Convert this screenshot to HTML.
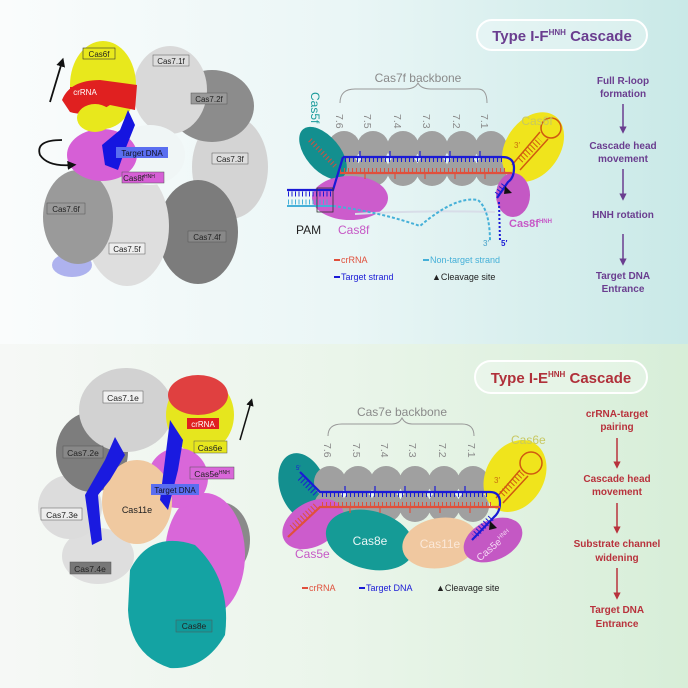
<!DOCTYPE html>
<html><head><meta charset="utf-8"><style>
html,body{margin:0;padding:0;width:688px;height:688px;overflow:hidden}
svg{display:block;font-family:"Liberation Sans",sans-serif}
</style></head><body>
<svg width="688" height="688" viewBox="0 0 688 688" xmlns="http://www.w3.org/2000/svg">
<defs>
<linearGradient id="gt" x1="0" x2="1" y1="0" y2="0"><stop offset="0" stop-color="#fafcfc"/><stop offset="0.5" stop-color="#eaf6f6"/><stop offset="1" stop-color="#c9e9e7"/></linearGradient>
<linearGradient id="gb" x1="0" x2="1" y1="0" y2="0"><stop offset="0" stop-color="#f6f8f6"/><stop offset="0.5" stop-color="#eaf5ea"/><stop offset="1" stop-color="#d7eed8"/></linearGradient>
<marker id="ap" viewBox="0 0 10 10" refX="5" refY="5" markerWidth="5" markerHeight="5" orient="auto"><path d="M0,0L10,5L0,10z" fill="#6a3d8f"/></marker>
<marker id="ar" viewBox="0 0 10 10" refX="5" refY="5" markerWidth="5" markerHeight="5" orient="auto"><path d="M0,0L10,5L0,10z" fill="#b8323c"/></marker>
<marker id="ak" viewBox="0 0 10 10" refX="5" refY="5" markerWidth="5" markerHeight="5" orient="auto"><path d="M0,0L10,5L0,10z" fill="#111"/></marker>
</defs>
<rect x="0" y="0" width="688" height="344" fill="url(#gt)"/>
<rect x="0" y="344" width="688" height="344" fill="url(#gb)"/>

<!-- ===== TOP STRUCTURE ===== -->
<g>
<ellipse cx="72" cy="265" rx="20" ry="12" fill="#8f93e8" opacity="0.7"/>
<ellipse cx="230" cy="167" rx="38" ry="52" fill="#d4d4d4"/>
<ellipse cx="198" cy="232" rx="40" ry="52" fill="#7c7c7c"/>
<ellipse cx="127" cy="226" rx="42" ry="60" fill="#dedede"/>
<ellipse cx="78" cy="217" rx="35" ry="47" fill="#9a9a9a"/>
<ellipse cx="212" cy="106" rx="42" ry="36" fill="#8c8c8c"/>
<ellipse cx="170" cy="90" rx="37" ry="44" fill="#d9d9d9"/>
<ellipse cx="150" cy="155" rx="35" ry="30" fill="#f0f6f6"/>
<ellipse cx="102" cy="155" rx="35" ry="26" fill="#d65fd6"/>
<ellipse cx="103" cy="85" rx="33" ry="44" fill="#e8e81c"/>
<path d="M62,100 Q70,80 100,80 L137,85 L135,110 L110,105 Q90,118 70,112z" fill="#e02020"/>
<ellipse cx="95" cy="118" rx="18" ry="14" fill="#e8e81c"/>
<path d="M128,110 L120,130 L102,145 L105,165 L118,170 L125,150 L135,125z" fill="#1515e0"/>
<rect x="83" y="48" width="32" height="11" fill="#e8e81c" stroke="#333" stroke-width="0.6"/><text x="99" y="57" font-size="8" text-anchor="middle" fill="#222">Cas6f</text>
<rect x="70" y="87" width="30" height="10" fill="#e02020"/><text x="85" y="95" font-size="8" text-anchor="middle" fill="#fff">crRNA</text>
<rect x="153" y="55" width="36" height="11" fill="#ddd" stroke="#555" stroke-width="0.5"/><text x="171" y="64" font-size="8" text-anchor="middle" fill="#222">Cas7.1f</text>
<rect x="191" y="93" width="36" height="11" fill="#999" stroke="#555" stroke-width="0.5"/><text x="209" y="102" font-size="8" text-anchor="middle" fill="#222">Cas7.2f</text>
<rect x="212" y="153" width="36" height="11" fill="#ddd" stroke="#555" stroke-width="0.5"/><text x="230" y="162" font-size="8" text-anchor="middle" fill="#222">Cas7.3f</text>
<rect x="188" y="231" width="38" height="11" fill="#888" stroke="#555" stroke-width="0.5"/><text x="207" y="240" font-size="8" text-anchor="middle" fill="#222">Cas7.4f</text>
<rect x="109" y="243" width="36" height="11" fill="#eee" stroke="#555" stroke-width="0.5"/><text x="127" y="252" font-size="8" text-anchor="middle" fill="#222">Cas7.5f</text>
<rect x="47" y="203" width="38" height="11" fill="#999" stroke="#555" stroke-width="0.5"/><text x="66" y="212" font-size="8" text-anchor="middle" fill="#222">Cas7.6f</text>
<rect x="116" y="147" width="52" height="11" fill="#5a6ef0"/><text x="142" y="156" font-size="8" text-anchor="middle" fill="#112">Target DNA</text>
<rect x="122" y="172" width="42" height="11" fill="#d65fd6" stroke="#555" stroke-width="0.5"/><text x="139" y="181" font-size="8" text-anchor="middle" fill="#222">Cas8f<tspan font-size="5" dy="-3">HNH</tspan></text>
<line x1="50" y1="102" x2="62" y2="62" stroke="#111" stroke-width="1.8" marker-end="url(#ak)"/>
<path d="M62,140 Q35,140 40,155 Q48,167 72,165" fill="none" stroke="#111" stroke-width="1.8" marker-end="url(#ak)"/>
</g>

<!-- ===== BOTTOM STRUCTURE ===== -->
<g>
<ellipse cx="98" cy="556" rx="36" ry="28" fill="#dedede"/>
<ellipse cx="70" cy="507" rx="32" ry="32" fill="#dcdcdc"/>
<ellipse cx="92" cy="452" rx="36" ry="40" fill="#7d7d7d"/>
<ellipse cx="126" cy="410" rx="47" ry="42" fill="#d2d2d2"/>
<ellipse cx="220" cy="540" rx="30" ry="38" fill="#8a8a8a"/>
<ellipse cx="200" cy="415" rx="34" ry="38" fill="#e6e61e"/>
<ellipse cx="198" cy="395" rx="30" ry="20" fill="#e04040"/>
<ellipse cx="205" cy="555" rx="40" ry="62" fill="#d967d9"/>
<ellipse cx="178" cy="478" rx="30" ry="30" fill="#d967d9"/>
<ellipse cx="137" cy="502" rx="35" ry="42" fill="#f0c9a0"/>
<path d="M130,570 Q150,530 195,545 Q232,580 225,635 Q205,670 170,668 Q130,655 128,610z" fill="#14a3a3"/>
<path d="M115,437 L125,455 L110,480 L98,495 L102,540 L92,545 L85,495 L105,460z" fill="#1a1ae0"/>
<path d="M170,420 L183,440 L178,470 L168,510 L160,500 L165,460z" fill="#1a1ae0"/>
<rect x="103" y="391" width="40" height="12" fill="#f0f0f0" stroke="#555" stroke-width="0.5"/><text x="123" y="401" font-size="8.5" text-anchor="middle" fill="#222">Cas7.1e</text>
<rect x="63" y="446" width="40" height="12" fill="#888" stroke="#555" stroke-width="0.5"/><text x="83" y="456" font-size="8.5" text-anchor="middle" fill="#222">Cas7.2e</text>
<rect x="41" y="508" width="41" height="12" fill="#eee" stroke="#555" stroke-width="0.5"/><text x="62" y="518" font-size="8.5" text-anchor="middle" fill="#222">Cas7.3e</text>
<rect x="70" y="562" width="41" height="12" fill="#777" stroke="#555" stroke-width="0.5"/><text x="90" y="572" font-size="8.5" text-anchor="middle" fill="#222">Cas7.4e</text>
<rect x="187" y="418" width="32" height="11" fill="#e02020"/><text x="203" y="427" font-size="8" text-anchor="middle" fill="#fff">crRNA</text>
<rect x="194" y="441" width="33" height="12" fill="#e6e61e" stroke="#555" stroke-width="0.5"/><text x="210" y="451" font-size="8.5" text-anchor="middle" fill="#222">Cas6e</text>
<rect x="190" y="467" width="44" height="12" fill="#d967d9" stroke="#555" stroke-width="0.5"/><text x="212" y="477" font-size="8.5" text-anchor="middle" fill="#222">Cas5e<tspan font-size="5" dy="-3">HNH</tspan></text>
<rect x="151" y="484" width="48" height="11" fill="#5a6ef0"/><text x="175" y="493" font-size="8" text-anchor="middle" fill="#112">Target DNA</text>
<text x="137" y="513" font-size="9" text-anchor="middle" fill="#222">Cas11e</text>
<rect x="176" y="620" width="36" height="12" fill="#109a9a" stroke="#555" stroke-width="0.5"/><text x="194" y="629" font-size="8.5" text-anchor="middle" fill="#222">Cas8e</text>
<line x1="240" y1="440" x2="251" y2="402" stroke="#111" stroke-width="1.5" marker-end="url(#ak)"/>
</g>

<!-- ===== TOP DIAGRAM ===== -->
<rect x="477" y="20" width="170" height="30" rx="15" fill="#ffffff" fill-opacity="0.25" stroke="#fff" stroke-width="2"/>
<text x="562" y="41" font-size="15" font-weight="bold" text-anchor="middle" fill="#6a3d8f">Type I-F<tspan font-size="8" dy="-6">HNH</tspan><tspan dy="6"> Cascade</tspan></text>
<text x="418" y="82" font-size="12" text-anchor="middle" fill="#8a8a8a">Cas7f backbone</text>
<path d="M340,103 Q340,89 355,89 L405,89 Q415,89 418,83 Q421,89 431,89 L478,89 Q487,89 487,103" fill="none" stroke="#999" stroke-width="1"/>
<g font-size="10.5" fill="#8a8a8a">
<text transform="translate(336,114) rotate(90)">7.6</text><text transform="translate(364,114) rotate(90)">7.5</text><text transform="translate(394,114) rotate(90)">7.4</text><text transform="translate(423,114) rotate(90)">7.3</text><text transform="translate(453,114) rotate(90)">7.2</text><text transform="translate(481,114) rotate(90)">7.1</text>
</g>
<text transform="translate(311,92) rotate(90)" font-size="12" fill="#1a9a9a">Cas5f</text>
<g fill="#a0a0a0">
<circle cx="344" cy="147" r="16"/><circle cx="344" cy="170" r="16"/>
<circle cx="373" cy="147" r="16"/><circle cx="373" cy="170" r="16"/>
<circle cx="403" cy="147" r="16"/><circle cx="403" cy="170" r="16"/>
<circle cx="432" cy="147" r="16"/><circle cx="432" cy="170" r="16"/>
<circle cx="462" cy="147" r="16"/><circle cx="462" cy="170" r="16"/>
<circle cx="491" cy="147" r="16"/><circle cx="491" cy="170" r="16"/>
</g>
<ellipse cx="323" cy="153" rx="17" ry="31" transform="rotate(-40 323 153)" fill="#138f8f"/>
<line x1="310" y1="140" x2="336" y2="167" stroke="#d05040" stroke-width="5" stroke-dasharray="1 2.5"/>
<ellipse cx="350" cy="198" rx="38" ry="22" fill="#cc5ccc"/>
<ellipse cx="533" cy="147" rx="27" ry="38" transform="rotate(35 533 147)" fill="#f0e41c"/>
<ellipse cx="513" cy="195" rx="17" ry="22" fill="#c458c4"/>
<path d="M355,214 Q420,210 495,212" fill="none" stroke="#d8dde8" stroke-width="2"/>
<path d="M512,165 L540,132 M520,170 L548,139" stroke="#d05a10" stroke-width="1.5" fill="none"/>
<line x1="520" y1="160" x2="540" y2="140" stroke="#d05a10" stroke-width="7" stroke-dasharray="1 2.5"/>
<circle cx="551" cy="128" r="10" fill="none" stroke="#d05a10" stroke-width="1.5"/>
<text x="514" y="148" font-size="8" fill="#c87010">3′</text>
<line x1="345" y1="160" x2="505" y2="160" stroke="#1a1ad6" stroke-width="4" stroke-dasharray="1 3"/>
<line x1="340" y1="170" x2="508" y2="170" stroke="#e0503c" stroke-width="4" stroke-dasharray="1 3"/>
<path d="M360,157 v-6 M390,157 v-6 M420,157 v-6 M450,157 v-6 M480,157 v-6" stroke="#1a1ad6" stroke-width="1.2"/>
<path d="M365,173 v6 M395,173 v6 M425,173 v6 M455,173 v6 M485,173 v6" stroke="#e0503c" stroke-width="1.2"/>
<path d="M343,157 L502,157 Q514,157 514,168 Q514,178 508,182 L497,198" fill="none" stroke="#1a1ad6" stroke-width="2.2"/>
<path d="M340,173 L512,173" stroke="#e0503c" stroke-width="2.2"/>
<path d="M343,157 L333,190 L287,190" fill="none" stroke="#1a1ad6" stroke-width="2.2"/>
<line x1="288" y1="194" x2="332" y2="194" stroke="#1a1ad6" stroke-width="5" stroke-dasharray="1 2.5"/>
<line x1="288" y1="202" x2="330" y2="202" stroke="#45b0d8" stroke-width="5" stroke-dasharray="1 2.5"/>
<line x1="287" y1="206" x2="333" y2="206" stroke="#45b0d8" stroke-width="2"/>
<line x1="504" y1="185" x2="496" y2="196" stroke="#1a1ad6" stroke-width="6" stroke-dasharray="1 2.5"/>
<path d="M333,206 Q380,212 420,226 Q455,196 478,200 Q490,210 490,242" fill="none" stroke="#45b0d8" stroke-width="2" stroke-dasharray="3 2"/>
<line x1="499" y1="202" x2="500" y2="242" stroke="#1a1ad6" stroke-width="2" stroke-dasharray="2 2"/>
<rect x="317" y="188" width="16" height="24" fill="none" stroke="#333" stroke-width="0.8"/>
<path d="M505,186 L512,193 L504,194z" fill="#111"/>
<text x="537" y="125" font-size="12" fill="#c8c860" text-anchor="middle">Cas6f</text>
<text x="296" y="234" font-size="12" fill="#222">PAM</text>
<text x="338" y="234" font-size="12" fill="#c658c6">Cas8f</text>
<text x="509" y="227" font-size="11" font-weight="bold" fill="#c658c6">Cas8f<tspan font-size="6" dy="-4">HNH</tspan></text>
<text x="483" y="246" font-size="8" fill="#45a0c8">3′</text>
<text x="501" y="246" font-size="8" font-weight="bold" fill="#1a1ad6">5′</text>
<g font-size="9">
<rect x="334" y="259" width="6" height="2" fill="#e0503c"/><text x="341" y="263" fill="#e0503c">crRNA</text>
<rect x="423" y="259" width="6" height="2" fill="#45b0d8"/><text x="430" y="263" fill="#45b0d8">Non-target strand</text>
<rect x="334" y="276" width="6" height="2" fill="#1a1ad6"/><text x="341" y="280" fill="#1a1ad6">Target strand</text>
<text x="432" y="280" fill="#222">▲Cleavage site</text>
</g>
<g font-size="10" font-weight="bold" fill="#6a3d8f" text-anchor="middle" stroke="#6a3d8f" stroke-width="1.5">
<text x="623" y="84" stroke="none">Full R-loop</text><text x="623" y="97" stroke="none">formation</text>
<line x1="623" y1="104" x2="623" y2="130" marker-end="url(#ap)"/>
<text x="623" y="149" stroke="none">Cascade head</text><text x="623" y="162" stroke="none">movement</text>
<line x1="623" y1="169" x2="623" y2="197" marker-end="url(#ap)"/>
<text x="623" y="218" stroke="none">HNH rotation</text>
<line x1="623" y1="234" x2="623" y2="262" marker-end="url(#ap)"/>
<text x="623" y="279" stroke="none">Target DNA</text><text x="623" y="292" stroke="none">Entrance</text>
</g>

<!-- ===== BOTTOM DIAGRAM ===== -->
<rect x="475" y="361" width="172" height="32" rx="16" fill="#ffffff" fill-opacity="0.25" stroke="#fff" stroke-width="2"/>
<text x="561" y="383" font-size="15" font-weight="bold" text-anchor="middle" fill="#b0303a">Type I-E<tspan font-size="8" dy="-6">HNH</tspan><tspan dy="6"> Cascade</tspan></text>
<text x="402" y="416" font-size="12" text-anchor="middle" fill="#8a8a8a">Cas7e backbone</text>
<path d="M328,436 Q328,424 342,424 L392,424 Q399,424 402,418 Q405,424 412,424 L462,424 Q474,424 474,436" fill="none" stroke="#999" stroke-width="1"/>
<g font-size="10.5" fill="#8a8a8a">
<text transform="translate(324,443) rotate(90)">7.6</text><text transform="translate(353,443) rotate(90)">7.5</text><text transform="translate(381,443) rotate(90)">7.4</text><text transform="translate(409,443) rotate(90)">7.3</text><text transform="translate(439,443) rotate(90)">7.2</text><text transform="translate(468,443) rotate(90)">7.1</text>
</g>
<ellipse cx="303" cy="487" rx="23" ry="35" transform="rotate(-20 303 487)" fill="#138f8f"/>
<g fill="#a0a0a0">
<circle cx="330" cy="482" r="16"/><circle cx="330" cy="506" r="16"/>
<circle cx="358" cy="482" r="16"/><circle cx="358" cy="506" r="16"/>
<circle cx="386" cy="482" r="16"/><circle cx="386" cy="506" r="16"/>
<circle cx="415" cy="482" r="16"/><circle cx="415" cy="506" r="16"/>
<circle cx="444" cy="482" r="16"/><circle cx="444" cy="506" r="16"/>
<circle cx="473" cy="482" r="16"/><circle cx="473" cy="506" r="16"/>
</g>
<ellipse cx="313" cy="524" rx="33" ry="22" transform="rotate(-30 313 524)" fill="#cc5ccc"/>
<ellipse cx="370" cy="540" rx="45" ry="29" transform="rotate(15 370 540)" fill="#159b96"/>
<ellipse cx="440" cy="543" rx="38" ry="25" transform="rotate(-10 440 543)" fill="#f0c8a0"/>
<ellipse cx="493" cy="540" rx="31" ry="20" transform="rotate(-25 493 540)" fill="#c458c4"/>
<ellipse cx="515" cy="476" rx="29" ry="38" transform="rotate(30 515 476)" fill="#f0e41c"/>
<path d="M496,498 L520,470 M503,503 L528,476" stroke="#d05a10" stroke-width="1.5" fill="none"/>
<line x1="502" y1="494" x2="522" y2="473" stroke="#d05a10" stroke-width="7" stroke-dasharray="1 2.5"/>
<circle cx="531" cy="463" r="11" fill="none" stroke="#d05a10" stroke-width="1.5"/>
<text x="494" y="483" font-size="8" fill="#c87010">3′</text>
<line x1="322" y1="495" x2="490" y2="495" stroke="#1a1ad6" stroke-width="4" stroke-dasharray="1 3"/>
<line x1="322" y1="504" x2="492" y2="504" stroke="#e0503c" stroke-width="4" stroke-dasharray="1 3"/>
<path d="M345,492 v-6 M375,492 v-6 M405,492 v-6 M435,492 v-6 M465,492 v-6" stroke="#1a1ad6" stroke-width="1.2"/>
<path d="M350,507 v6 M380,507 v6 M410,507 v6 M440,507 v6 M470,507 v6" stroke="#e0503c" stroke-width="1.2"/>
<path d="M300,472 L320,492 L490,492 Q500,492 500,503 Q500,512 494,517 L472,540" fill="none" stroke="#1a1ad6" stroke-width="2.2"/>
<path d="M288,537 L320,507 L500,507" fill="none" stroke="#e0503c" stroke-width="2.2"/>
<line x1="300" y1="478" x2="316" y2="494" stroke="#1a1ad6" stroke-width="6" stroke-dasharray="1 2.5"/>
<line x1="292" y1="528" x2="316" y2="506" stroke="#e0503c" stroke-width="7" stroke-dasharray="1 2.5"/>
<line x1="491" y1="518" x2="474" y2="536" stroke="#1a1ad6" stroke-width="7" stroke-dasharray="1 2.5"/>
<path d="M490,521 L497,528 L489,530z" fill="#111"/>
<text x="296" y="470" font-size="6" fill="#1a1ad6">5′</text>
<text x="370" y="545" font-size="12" fill="#e8f6f6" text-anchor="middle">Cas8e</text>
<text x="440" y="548" font-size="12" fill="#fbe8d8" text-anchor="middle">Cas11e</text>
<text transform="translate(496,548) rotate(-40)" font-size="10" fill="#f5d8f5" text-anchor="middle">Cas5e<tspan font-size="6" dy="-4">HNH</tspan></text>
<text x="295" y="558" font-size="12" fill="#c658c6">Cas5e</text>
<text x="511" y="444" font-size="12" fill="#c8c860">Cas6e</text>
<g font-size="9">
<rect x="302" y="587" width="6" height="2" fill="#e0503c"/><text x="309" y="591" fill="#e0503c">crRNA</text>
<rect x="359" y="587" width="6" height="2" fill="#1a1ad6"/><text x="366" y="591" fill="#1a1ad6">Target DNA</text>
<text x="436" y="591" fill="#222">▲Cleavage site</text>
</g>
<g font-size="10" font-weight="bold" fill="#b8323c" text-anchor="middle" stroke="#b8323c" stroke-width="1.5">
<text x="617" y="417" stroke="none">crRNA-target</text><text x="617" y="430" stroke="none">pairing</text>
<line x1="617" y1="438" x2="617" y2="465" marker-end="url(#ar)"/>
<text x="617" y="482" stroke="none">Cascade head</text><text x="617" y="495" stroke="none">movement</text>
<line x1="617" y1="503" x2="617" y2="530" marker-end="url(#ar)"/>
<text x="617" y="547" stroke="none">Substrate channel</text><text x="617" y="561" stroke="none">widening</text>
<line x1="617" y1="568" x2="617" y2="596" marker-end="url(#ar)"/>
<text x="617" y="613" stroke="none">Target DNA</text><text x="617" y="627" stroke="none">Entrance</text>
</g>
</svg>
</body></html>
